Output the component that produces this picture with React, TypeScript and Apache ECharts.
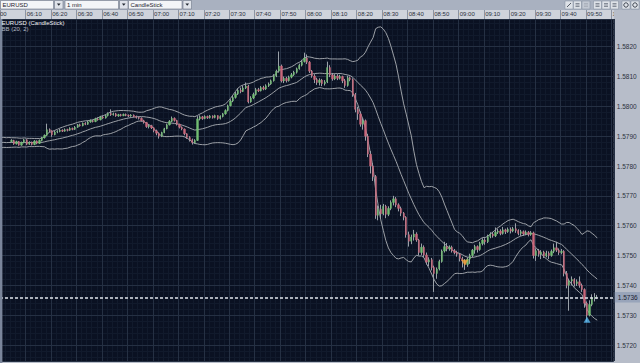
import React, { useEffect, useRef } from 'react';
import * as echarts from 'echarts';

const FONT = "'Liberation Sans', 'DejaVu Sans', sans-serif";
const NARROW = "'Liberation Sans Narrow', 'Liberation Sans', sans-serif";

// ---- categories: one per minute, 06:00 .. 10:00 ----
const firstMinute = 6 * 60;
const lastMinute = 10 * 60;
const times: string[] = [];
for (let m = firstMinute; m <= lastMinute; m++) {
  times.push(`${String(Math.floor(m / 60)).padStart(2, '0')}:${String(m % 60).padStart(2, '0')}`);
}
const candleStart = '06:04';

// closes before the visible window (05:41 .. 06:03), used only for the BB(20,2) warm-up
const warmupCloses = [
  1.57868, 1.57889, 1.57874, 1.5789, 1.57869, 1.57883, 1.57888, 1.57867, 1.57879, 1.57889,
  1.57866, 1.57876, 1.57887, 1.5787, 1.57884, 1.5789, 1.57868, 1.57877, 1.57886, 1.57872,
  1.57883, 1.57871, 1.57885,
];

// 1-minute EURUSD candles, [open, close, low, high], 06:04 .. 09:54
const ohlc: number[][] = [
  // 06:04
  [1.57882, 1.57886, 1.57879, 1.5789], [1.57886, 1.57874, 1.57871, 1.57888], [1.57874, 1.57882, 1.57872, 1.57885],
  [1.57882, 1.5787, 1.57868, 1.57884], [1.5787, 1.57879, 1.57868, 1.57882], [1.57879, 1.57888, 1.57876, 1.57891],
  // 06:10
  [1.57888, 1.57873, 1.5787, 1.5789], [1.57873, 1.5788, 1.57871, 1.57883], [1.5788, 1.57872, 1.57869, 1.57882],
  [1.57872, 1.57884, 1.5787, 1.57887], [1.57884, 1.57876, 1.57873, 1.57886], [1.57876, 1.57886, 1.57874, 1.57889],
  [1.57886, 1.57895, 1.57883, 1.57898], [1.57895, 1.57903, 1.57892, 1.57906], [1.57903, 1.57922, 1.579, 1.57942],
  [1.57922, 1.57918, 1.57913, 1.57926],
  // 06:20
  [1.57918, 1.57905, 1.57898, 1.5792], [1.57905, 1.57914, 1.57903, 1.57918], [1.57914, 1.57916, 1.5791, 1.5792],
  [1.57916, 1.5792, 1.57913, 1.57924], [1.5792, 1.57917, 1.57914, 1.57923], [1.57917, 1.57922, 1.57915, 1.57926],
  [1.57922, 1.5792, 1.57916, 1.57925], [1.5792, 1.57926, 1.57918, 1.5793], [1.57926, 1.57923, 1.5792, 1.57929],
  [1.57923, 1.5793, 1.57921, 1.57934],
  // 06:30
  [1.5793, 1.57938, 1.57928, 1.57941], [1.57938, 1.57935, 1.57932, 1.57942], [1.57935, 1.57943, 1.57933, 1.57946],
  [1.57943, 1.5794, 1.57937, 1.57947], [1.5794, 1.57948, 1.57938, 1.57952], [1.57948, 1.57952, 1.57945, 1.57956],
  [1.57952, 1.57949, 1.57946, 1.57955], [1.57949, 1.57958, 1.57947, 1.57962], [1.57958, 1.57955, 1.57952, 1.57963],
  [1.57955, 1.57964, 1.57953, 1.57968],
  // 06:40
  [1.57964, 1.57961, 1.57958, 1.57969], [1.57961, 1.57969, 1.57959, 1.57973], [1.57969, 1.57976, 1.57966, 1.5798],
  [1.57976, 1.57972, 1.57968, 1.5799], [1.57972, 1.57975, 1.57969, 1.57979], [1.57975, 1.57968, 1.57965, 1.57978],
  [1.57968, 1.57972, 1.57965, 1.57975], [1.57972, 1.57969, 1.57966, 1.57975], [1.57969, 1.57973, 1.57967, 1.57976],
  [1.57973, 1.5797, 1.57967, 1.57976],
  // 06:50
  [1.5797, 1.57968, 1.57964, 1.57973], [1.57968, 1.57971, 1.57965, 1.57974], [1.57971, 1.57966, 1.57963, 1.57973],
  [1.57966, 1.57963, 1.57959, 1.57969], [1.57963, 1.5796, 1.57956, 1.57966], [1.5796, 1.57952, 1.57949, 1.57963],
  [1.57952, 1.57946, 1.57942, 1.57955], [1.57946, 1.57932, 1.57928, 1.57948], [1.57932, 1.57935, 1.57926, 1.57939],
  [1.57935, 1.57928, 1.57924, 1.57938],
  // 07:00
  [1.57928, 1.57918, 1.57913, 1.5793], [1.57918, 1.5791, 1.57903, 1.57922], [1.5791, 1.579, 1.57892, 1.57913],
  [1.579, 1.57912, 1.57897, 1.57915], [1.57912, 1.57925, 1.5791, 1.57928], [1.57925, 1.57938, 1.57923, 1.57942],
  [1.57938, 1.5795, 1.57936, 1.57954], [1.5795, 1.5796, 1.57947, 1.57966], [1.5796, 1.57953, 1.57949, 1.57963],
  [1.57953, 1.5794, 1.57936, 1.57955],
  // 07:10
  [1.5794, 1.5793, 1.57926, 1.57942], [1.5793, 1.57924, 1.5792, 1.57933], [1.57924, 1.57908, 1.57903, 1.57926],
  [1.57908, 1.57896, 1.57891, 1.5791], [1.57896, 1.57888, 1.57882, 1.579], [1.57888, 1.57878, 1.57872, 1.57892],
  [1.57878, 1.57886, 1.57875, 1.5789], [1.57886, 1.57958, 1.57884, 1.57967], [1.57958, 1.57965, 1.57953, 1.5797],
  [1.57965, 1.57959, 1.57955, 1.57968],
  // 07:20
  [1.57959, 1.57966, 1.57957, 1.5797], [1.57966, 1.57962, 1.57958, 1.57969], [1.57962, 1.57968, 1.57959, 1.57971],
  [1.57968, 1.57963, 1.57959, 1.5797], [1.57963, 1.57969, 1.5796, 1.57972], [1.57969, 1.57959, 1.57955, 1.5797],
  [1.57959, 1.57966, 1.57956, 1.5797], [1.57966, 1.57975, 1.57963, 1.57978], [1.57975, 1.57986, 1.57972, 1.5799],
  [1.57986, 1.58002, 1.57983, 1.58006],
  // 07:30
  [1.58002, 1.58018, 1.58, 1.58024], [1.58018, 1.5803, 1.58014, 1.58035], [1.5803, 1.58042, 1.58026, 1.58048],
  [1.58042, 1.58054, 1.58038, 1.5806], [1.58054, 1.5805, 1.58044, 1.58063], [1.5805, 1.58062, 1.58048, 1.5807],
  [1.58062, 1.58068, 1.58058, 1.5808], [1.58068, 1.58015, 1.5801, 1.58072], [1.58015, 1.58028, 1.58012, 1.58034],
  [1.58028, 1.5804, 1.58024, 1.58046],
  // 07:40
  [1.5804, 1.58056, 1.58036, 1.58062], [1.58056, 1.58052, 1.58048, 1.58062], [1.58052, 1.58063, 1.5805, 1.58068],
  [1.58063, 1.58058, 1.58054, 1.58069], [1.58058, 1.58069, 1.58055, 1.58074], [1.58069, 1.58075, 1.58065, 1.5808],
  [1.58075, 1.58086, 1.58072, 1.5809], [1.58086, 1.58102, 1.58083, 1.58108], [1.58102, 1.58118, 1.58098, 1.58123],
  [1.58118, 1.58135, 1.58113, 1.58184],
  // 07:50
  [1.58135, 1.58085, 1.5808, 1.5814], [1.58085, 1.58094, 1.58078, 1.581], [1.58094, 1.58086, 1.5808, 1.58099],
  [1.58086, 1.58098, 1.58083, 1.58103], [1.58098, 1.58106, 1.58094, 1.58112], [1.58106, 1.58114, 1.58102, 1.58119],
  [1.58114, 1.58126, 1.5811, 1.5813], [1.58126, 1.58138, 1.58123, 1.58143], [1.58138, 1.5815, 1.58134, 1.58156],
  [1.5815, 1.58162, 1.58147, 1.5818],
  // 08:00
  [1.58162, 1.58148, 1.58142, 1.58174], [1.58148, 1.58118, 1.58112, 1.58152], [1.58118, 1.58102, 1.58096, 1.58122],
  [1.58102, 1.5809, 1.58078, 1.58108], [1.5809, 1.5808, 1.58072, 1.58096], [1.5808, 1.58088, 1.5807, 1.58094],
  [1.58088, 1.58076, 1.58068, 1.58092], [1.58076, 1.58082, 1.5807, 1.58088], [1.58082, 1.5813, 1.58078, 1.5815],
  [1.5813, 1.58105, 1.58098, 1.58138],
  // 08:10
  [1.58105, 1.58092, 1.58086, 1.58112], [1.58092, 1.58102, 1.58088, 1.58108], [1.58102, 1.58094, 1.58088, 1.58108],
  [1.58094, 1.581, 1.5809, 1.58106], [1.581, 1.58086, 1.58078, 1.58103], [1.58086, 1.5807, 1.58062, 1.58092],
  [1.5807, 1.58096, 1.58066, 1.58103], [1.58096, 1.5809, 1.58084, 1.581], [1.5809, 1.5804, 1.58032, 1.58094],
  [1.5804, 1.5799, 1.5798, 1.58045],
  // 08:20
  [1.5799, 1.57975, 1.57955, 1.57998], [1.57975, 1.5794, 1.57932, 1.57983], [1.5794, 1.57952, 1.57922, 1.5796],
  [1.57952, 1.579, 1.57885, 1.57956], [1.579, 1.5784, 1.5783, 1.57908], [1.5784, 1.578, 1.57775, 1.5785],
  [1.578, 1.57765, 1.5775, 1.5781], [1.57765, 1.57635, 1.57623, 1.5777], [1.57635, 1.57655, 1.57618, 1.57668],
  [1.57655, 1.5764, 1.57625, 1.5767],
  // 08:30
  [1.5764, 1.57665, 1.57635, 1.57673], [1.57665, 1.57638, 1.57625, 1.5767], [1.57638, 1.57658, 1.57632, 1.57665],
  [1.57658, 1.57678, 1.57652, 1.57685], [1.57678, 1.5769, 1.57668, 1.577], [1.5769, 1.5767, 1.57662, 1.57696],
  [1.5767, 1.57658, 1.57648, 1.57675], [1.57658, 1.57642, 1.57632, 1.57664], [1.57642, 1.57628, 1.57618, 1.57646],
  [1.57628, 1.5757, 1.5756, 1.57632],
  // 08:40
  [1.5757, 1.57548, 1.5753, 1.5758], [1.57548, 1.57562, 1.57538, 1.5757], [1.57562, 1.57572, 1.5755, 1.57586],
  [1.57572, 1.57552, 1.57546, 1.57578], [1.57552, 1.5751, 1.575, 1.57556], [1.5751, 1.57528, 1.57502, 1.5754],
  [1.57528, 1.57502, 1.57495, 1.57534], [1.57502, 1.57478, 1.5747, 1.5751], [1.57478, 1.57486, 1.57464, 1.57494],
  [1.57486, 1.5746, 1.5745, 1.57492],
  // 08:50
  [1.5746, 1.5744, 1.57378, 1.57466], [1.5744, 1.57455, 1.57422, 1.5746], [1.57455, 1.5748, 1.5745, 1.57486],
  [1.5748, 1.57515, 1.57476, 1.5752], [1.57515, 1.5753, 1.5751, 1.57546], [1.5753, 1.57522, 1.57514, 1.57542],
  [1.57522, 1.57528, 1.57516, 1.57534], [1.57528, 1.57516, 1.5751, 1.57533], [1.57516, 1.5751, 1.57504, 1.57522],
  [1.5751, 1.57504, 1.57496, 1.57516],
  // 09:00
  [1.57504, 1.5749, 1.5748, 1.57508], [1.5749, 1.57482, 1.5746, 1.57496], [1.57482, 1.5747, 1.57452, 1.57488],
  [1.5747, 1.57488, 1.57462, 1.57494], [1.57488, 1.575, 1.57472, 1.57506], [1.575, 1.57518, 1.57494, 1.57522],
  [1.57518, 1.5753, 1.57506, 1.57536], [1.5753, 1.5752, 1.5751, 1.57534], [1.5752, 1.5754, 1.57516, 1.57546],
  [1.5754, 1.57552, 1.57534, 1.57558],
  // 09:10
  [1.57552, 1.57546, 1.57536, 1.57558], [1.57546, 1.57564, 1.57542, 1.5757], [1.57564, 1.57572, 1.57558, 1.57578],
  [1.57572, 1.57566, 1.5756, 1.57579], [1.57566, 1.57578, 1.57562, 1.57594], [1.57578, 1.57582, 1.57572, 1.5759],
  [1.57582, 1.57574, 1.57568, 1.57588], [1.57574, 1.57586, 1.5757, 1.57596], [1.57586, 1.5758, 1.57572, 1.5759],
  [1.5758, 1.57588, 1.57576, 1.57594],
  // 09:20
  [1.57588, 1.57582, 1.57574, 1.57594], [1.57582, 1.5759, 1.57578, 1.57596], [1.5759, 1.57584, 1.57576, 1.57608],
  [1.57584, 1.57574, 1.57568, 1.57588], [1.57574, 1.5758, 1.57566, 1.57586], [1.5758, 1.57572, 1.57566, 1.57584],
  [1.57572, 1.57578, 1.57568, 1.57584], [1.57578, 1.5757, 1.57564, 1.57582], [1.5757, 1.57576, 1.57566, 1.57582],
  [1.57576, 1.575, 1.5749, 1.5758],
  // 09:30
  [1.575, 1.57516, 1.57482, 1.57524], [1.57516, 1.57504, 1.57496, 1.57522], [1.57504, 1.57512, 1.57488, 1.57518],
  [1.57512, 1.57498, 1.57492, 1.57516], [1.57498, 1.57508, 1.57494, 1.57516], [1.57508, 1.575, 1.57488, 1.57514],
  [1.575, 1.57514, 1.57496, 1.5752], [1.57514, 1.57526, 1.57508, 1.5754], [1.57526, 1.57518, 1.57512, 1.57546],
  [1.57518, 1.5751, 1.57502, 1.57524],
  // 09:40
  [1.5751, 1.57514, 1.57504, 1.57522], [1.57514, 1.5744, 1.5743, 1.57518], [1.5744, 1.574, 1.5739, 1.57448],
  [1.574, 1.57415, 1.57315, 1.57422], [1.57415, 1.5742, 1.574, 1.5743], [1.5742, 1.57406, 1.57396, 1.57424],
  [1.57406, 1.57412, 1.57398, 1.5742], [1.57412, 1.574, 1.57392, 1.5743], [1.574, 1.57386, 1.57378, 1.57406],
  [1.57386, 1.5734, 1.57325, 1.5739],
  // 09:50
  [1.5734, 1.573, 1.57278, 1.57346], [1.573, 1.57336, 1.57296, 1.5735], [1.57336, 1.57358, 1.5733, 1.5737],
  [1.57358, 1.5736, 1.57346, 1.57374], [1.5736, 1.5736, 1.57354, 1.57368],
];

const lastPrice = 1.5736;
const sellSignal: [string, number] = ['09:02', 1.57476];
const buySignal: [string, number] = ['09:50', 1.57285];
const yMin = 1.571464;
const yMax = 1.582929;
const bbPeriod = 20;
const bbWidth = 2;

const dropdowns = [
  { label: 'EURUSD', x: 0.5, w: 53 },
  { label: '1 min', x: 65, w: 53.5 },
  { label: 'CandleStick', x: 128.5, w: 53.5 },
];
const toolIcons = [565, 573.5, 582, 593.5, 602, 610.5, 622, 631];

export default function App() {
  const ref = useRef<HTMLDivElement>(null);

  useEffect(() => {
    if (!ref.current) return;
    const chart = echarts.init(ref.current, undefined, { renderer: 'svg', width: 640, height: 363 });

    const startIdx = times.indexOf(candleStart);
    const allCloses = [...warmupCloses, ...ohlc.map((d) => d[1])];
    const offset = warmupCloses.length - startIdx;
    const upper: (number | string)[] = [];
    const middle: (number | string)[] = [];
    const lower: (number | string)[] = [];
    times.forEach((_, k) => {
      const end = k + offset;
      if (end < bbPeriod - 1 || end >= allCloses.length) {
        upper.push('-'); middle.push('-'); lower.push('-');
        return;
      }
      const win = allCloses.slice(end - bbPeriod + 1, end + 1);
      const mean = win.reduce((a, b) => a + b, 0) / win.length;
      const sd = Math.sqrt(win.reduce((a, b) => a + (b - mean) * (b - mean), 0) / win.length);
      upper.push(mean + bbWidth * sd);
      middle.push(mean);
      lower.push(mean - bbWidth * sd);
    });

    const empty = ['-', '-', '-', '-'];
    const wickData = times.map((_, k) => {
      const d = ohlc[k - startIdx];
      return d ? [d[0], d[1], d[2], d[3]] : empty;
    });
    const bodyData = times.map((_, k) => {
      const d = ohlc[k - startIdx];
      return d ? [d[0], d[1], Math.min(d[0], d[1]), Math.max(d[0], d[1])] : empty;
    });

    const isTen = (i: number, v: string) => v.endsWith('0');
    const isTenLabel = (i: number, v: string) => i > 0 && v.endsWith('0');

    const graphics: any[] = [
      { type: 'rect', z: 0, shape: { x: 0, y: 0, width: 640, height: 10 }, style: { fill: '#a9b1c0' } },
      { type: 'rect', z: 0, shape: { x: 0, y: 10, width: 640, height: 9 }, style: { fill: '#cfd3db' } },
      {
        type: 'text', z: 2, x: 0, y: 17,
        style: { text: '00', fill: '#2a303b', fontSize: 6, fontFamily: NARROW, verticalAlign: 'bottom' },
      },
      { type: 'rect', z: 3, shape: { x: 613.8, y: 10, width: 26.2, height: 9 }, style: { fill: '#b7bdc9' } },
      { type: 'rect', z: 10, shape: { x: 0, y: 19, width: 2.4, height: 344 }, style: { fill: '#7a859a' } },
      {
        type: 'text', z: 10, x: 1.5, y: 19.5,
        style: { text: 'EURUSD (CandleStick)', fill: '#f2f4f7', fontSize: 6, fontFamily: FONT },
      },
      {
        type: 'text', z: 10, x: 1.5, y: 25.5,
        style: { text: 'BB (20, 2)', fill: '#b3bac4', fontSize: 6, fontFamily: FONT },
      },
    ];
    dropdowns.forEach((d) => {
      graphics.push({
        type: 'rect', z: 1, shape: { x: d.x, y: 0.5, width: d.w, height: 8.5 },
        style: { fill: '#f3f5f8', stroke: '#6e7788', lineWidth: 0.6 },
      });
      graphics.push({
        type: 'text', z: 2, x: d.x + 2, y: 4.8,
        style: { text: d.label, fill: '#1d222c', fontSize: 6, fontFamily: FONT, verticalAlign: 'middle' },
      });
      const bx = d.x + d.w + 1;
      graphics.push({
        type: 'rect', z: 1, shape: { x: bx, y: 0.5, width: 8.5, height: 8.5 },
        style: { fill: '#dfe3ea', stroke: '#6e7788', lineWidth: 0.6 },
      });
      graphics.push({
        type: 'polygon', z: 2,
        shape: { points: [[bx + 2.4, 3.6], [bx + 6.1, 3.6], [bx + 4.25, 5.8]] },
        style: { fill: '#222831' },
      });
    });
    toolIcons.forEach((x, i) => {
      graphics.push({
        type: 'rect', z: 1, shape: { x, y: 1, width: 8, height: 8 },
        style: { fill: i === 2 ? '#c3c9d3' : '#dde1e7', stroke: '#838c9d', lineWidth: 0.5 },
      });
      if (i >= 6) {
        graphics.push({ type: 'circle', z: 2, shape: { cx: x + 4, cy: 5, r: 2.2 }, style: { fill: 'none', stroke: '#333a46', lineWidth: 0.9 } });
      } else if (i === 0) {
        graphics.push({ type: 'line', z: 2, shape: { x1: x + 2, y1: 7, x2: x + 6, y2: 3 }, style: { stroke: '#333a46', lineWidth: 0.8 } });
      } else {
        [3.5, 5, 6.5].forEach((yy) => {
          graphics.push({
            type: 'line', z: 2, shape: { x1: x + 2, y1: yy, x2: x + 6, y2: yy },
            style: { stroke: i === 2 ? '#9aa1ad' : '#4a5261', lineWidth: 0.6 },
          });
        });
      }
    });

    const bandLine = { color: '#9da1a7', width: 1 };

    chart.setOption({
      animation: false,
      backgroundColor: '#b7bdc9',
      textStyle: { fontFamily: FONT },
      grid: {
        left: -5.7, top: 19, width: 619.5, height: 342,
        show: true, backgroundColor: '#0a1122', borderWidth: 0,
      },
      xAxis: [
        {
          type: 'category', data: times, position: 'top', boundaryGap: true, z: 1,
          axisLine: { show: false },
          axisTick: { show: true, interval: isTen, length: 9, lineStyle: { color: '#8c94a3', width: 1 } },
          axisLabel: {
            show: true, interval: isTenLabel, fontSize: 6, color: '#2a303b', margin: 2.5,
            align: 'left', fontFamily: NARROW,
          },
          splitLine: { show: true, interval: isTen, lineStyle: { color: '#253043', width: 1 } },
        },
        {
          type: 'value', min: 0, max: times.length, interval: 10, position: 'bottom',
          axisLine: { show: false }, axisTick: { show: false }, axisLabel: { show: false },
          splitLine: { show: false },
          minorTick: { show: false, splitNumber: 5 },
          minorSplitLine: { show: true, lineStyle: { color: '#111a2c', width: 1 } },
        },
      ],
      yAxis: {
        type: 'value', position: 'right', min: yMin, max: yMax,
        minInterval: 0.001, maxInterval: 0.001, z: 1,
        axisLine: { show: false }, axisTick: { show: false },
        axisLabel: {
          fontSize: 6.5, color: '#2b313c', margin: 3, showMinLabel: false, showMaxLabel: false,
          formatter: (v: number) => v.toFixed(4),
        },
        splitLine: { show: true, lineStyle: { color: '#253043', width: 1 } },
        minorTick: { show: false, splitNumber: 5 },
        minorSplitLine: { show: true, lineStyle: { color: '#111a2c', width: 1 } },
      },
      graphic: { elements: graphics },
      series: [
        {
          type: 'line', name: 'BB upper', data: upper, symbol: 'none', showSymbol: false,
          lineStyle: bandLine, z: 2, silent: true,
        },
        {
          type: 'line', name: 'BB middle', data: middle, symbol: 'none', showSymbol: false,
          lineStyle: bandLine, z: 2, silent: true,
        },
        {
          type: 'line', name: 'BB lower', data: lower, symbol: 'none', showSymbol: false,
          lineStyle: bandLine, z: 2, silent: true,
        },
        {
          type: 'candlestick', name: 'EURUSD wicks', data: wickData, barWidth: 0.5, z: 3, silent: true,
          itemStyle: {
            color: '#9aa1a9', color0: '#9aa1a9', borderColor: '#9aa1a9', borderColor0: '#9aa1a9',
            borderColorDoji: '#9aa1a9', borderWidth: 1,
          },
        },
        {
          type: 'candlestick', name: 'EURUSD', data: bodyData, barWidth: 1.8, z: 4, silent: true,
          itemStyle: {
            color: '#72bd72', color0: '#c9677a', borderColor: '#72bd72', borderColor0: '#c9677a',
            borderColorDoji: '#9aa1a9', borderWidth: 0.4,
          },
          markLine: {
            silent: true, symbol: ['none', 'none'], animation: false, precision: 4, z: 6,
            data: [{ yAxis: lastPrice }],
            lineStyle: { color: '#dfe3ea', width: 1.5, type: [3, 2] },
            label: {
              show: true, position: 'end', distance: 1,
              formatter: () => lastPrice.toFixed(4),
              fontSize: 6.5, color: '#1c2230', backgroundColor: '#98a4ba',
              padding: [2, 3, 1.5, 3], fontFamily: FONT,
            },
          },
        },
        {
          type: 'scatter', name: 'sell', data: [sellSignal], symbol: 'triangle', symbolRotate: 180,
          symbolSize: [7, 6], itemStyle: { color: '#f2a93b' }, z: 7, silent: true,
        },
        {
          type: 'scatter', name: 'buy', data: [buySignal], symbol: 'triangle',
          symbolSize: [7, 6], itemStyle: { color: '#5bbcf2' }, z: 7, silent: true,
        },
      ],
    });

    return () => chart.dispose();
  }, []);

  return <div ref={ref} style={{ position: 'absolute', left: 0, top: 0, width: 640, height: 363 }} />;
}
